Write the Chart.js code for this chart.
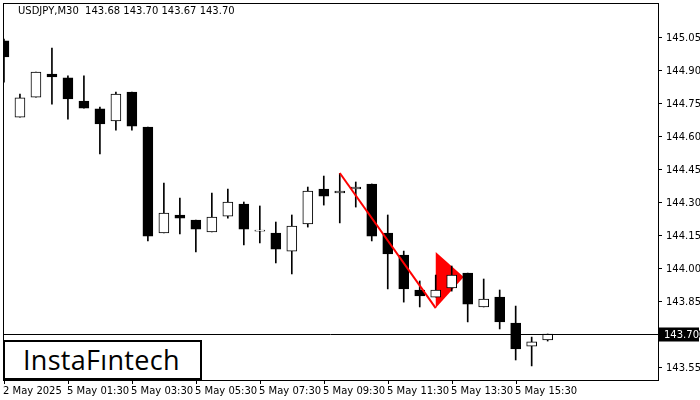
<!DOCTYPE html>
<html><head><meta charset="utf-8">
<script src="https://cdn.jsdelivr.net/npm/chart.js@4"></script>
<style>body{margin:0;background:#fff;font-family:"DejaVu Sans",sans-serif}#w{position:relative;width:700px;height:400px}
#t{position:absolute;left:18px;top:5px;font-size:10px;color:#000}
#logo{position:absolute;left:3px;top:340px;width:195px;height:36px;border:2px solid #000;background:#fff;font-size:27px;line-height:36px;text-indent:18px;font-family:"Open Sans",sans-serif;letter-spacing:0.3px}</style>
</head><body><div id="w"><canvas id="c" width="700" height="400"></canvas><div id="t">USDJPY,M30&nbsp; 143.68 143.70 143.67 143.70</div><div id="logo">InstaFıntech</div></div>
<script>
const opens  =[145.032,144.686,144.777,144.882,144.864,144.759,144.723,144.668,144.800,144.641,144.159,144.241,144.218,144.164,144.236,144.291,144.168,144.159,144.077,144.200,144.359,144.341,144.359,144.382,144.159,144.059,143.900,143.868,143.909,143.977,143.823,143.868,143.750,143.645,143.673];
const closes =[144.959,144.773,144.891,144.868,144.768,144.727,144.655,144.791,144.645,144.145,144.250,144.227,144.177,144.232,144.300,144.177,144.168,144.086,144.191,144.350,144.327,144.350,144.368,144.145,144.064,143.905,143.873,143.900,143.968,143.836,143.859,143.755,143.632,143.664,143.700];
const highs  =[145.040,144.791,144.891,145.000,144.873,144.873,144.732,144.800,144.800,144.641,144.386,144.318,144.218,144.341,144.359,144.300,144.282,144.209,144.241,144.368,144.418,144.430,144.391,144.382,144.241,144.077,143.941,143.968,144.009,143.977,143.950,143.900,143.827,143.686,143.700];
const lows   =[144.845,144.686,144.777,144.745,144.677,144.727,144.518,144.627,144.627,144.123,144.159,144.155,144.073,144.164,144.227,144.105,144.114,144.023,143.973,144.186,144.286,144.205,144.277,144.123,143.905,143.845,143.823,143.868,143.895,143.755,143.823,143.723,143.582,143.555,143.668];
const timeLabels=["2 May 2025","5 May 01:30","5 May 03:30","5 May 05:30","5 May 07:30","5 May 09:30","5 May 11:30","5 May 13:30","5 May 15:30"];
const yTicks=[143.55,143.70,143.85,144.00,144.15,144.30,144.45,144.60,144.75,144.90,145.05];
const poleX=[21,27], poleY=[144.432,143.818];
const flagX=[27,27,28.75], flagY=[144.073,143.818,143.959];
const lastPrice=143.70;

const idx=opens.map((_,i)=>i);
const bodyColor=idx.map(i=>closes[i]>=opens[i]?'#fff':'#000');
const body=idx.map(i=>{let a=opens[i],b=closes[i];if(Math.abs(a-b)<0.004){b=a+0.004;}return {x:i,y:[a,b]};});
const wick=idx.map(i=>({x:i,y:[lows[i],highs[i]]}));

const overlay={id:'ov',
 beforeDatasetsDraw(ch){
  const x=ch.scales.x,y=ch.scales.y,c=ch.ctx,a=ch.chartArea;
  c.save();c.beginPath();c.rect(a.left,a.top,a.right-a.left,a.bottom-a.top);c.clip();
  c.fillStyle='#ff0000';c.beginPath();
  flagX.forEach((v,i)=>{const px=x.getPixelForValue(v),py=y.getPixelForValue(flagY[i]);i?c.lineTo(px,py):c.moveTo(px,py);});
  c.closePath();c.fill();c.restore();},
 afterDatasetsDraw(ch){
 const x=ch.scales.x,y=ch.scales.y,c=ch.ctx,a=ch.chartArea;
 c.save();
 c.strokeStyle='#ff0000';c.lineWidth=2;c.beginPath();
 c.moveTo(x.getPixelForValue(poleX[0]),y.getPixelForValue(poleY[0]));
 c.lineTo(x.getPixelForValue(poleX[1]),y.getPixelForValue(poleY[1]));c.stroke();
 c.font='10px "DejaVu Sans"';c.textAlign='left';c.textBaseline='middle';c.fillStyle='#000';
 yTicks.forEach(v=>{const py=Math.round(y.getPixelForValue(v));c.fillRect(a.right,py,4,1);c.fillText(v.toFixed(2),a.right+8,py+1);});
 const ly=Math.round(y.getPixelForValue(lastPrice))+0.5;
 c.strokeStyle='#000';c.lineWidth=1;c.beginPath();c.moveTo(a.left,ly);c.lineTo(a.right,ly);c.stroke();
 c.fillStyle='#000';c.fillRect(a.right+1,ly-7,40,14);
 c.fillStyle='#fff';c.fillText(lastPrice.toFixed(2),a.right+6,ly+1);
 c.fillStyle='#000';c.textBaseline='top';
 timeLabels.forEach((t,i)=>{const px=Math.round(x.getPixelForValue(i*4));
   c.fillRect(px,a.bottom,1,4);c.fillText(t,px-1,a.bottom+6);});
 c.strokeStyle='#000';c.strokeRect(a.left+0.5,a.top+0.5,a.right-a.left,a.bottom-a.top);
 c.restore();}};

new Chart(document.getElementById('c'),{
 type:'bar',
 data:{datasets:[
  {data:wick,backgroundColor:'#000',barThickness:1,grouped:false,order:2},
  {data:body,backgroundColor:bodyColor,borderColor:'#000',borderWidth:1,borderSkipped:false,barThickness:10,grouped:false,order:1}
 ]},
 options:{responsive:false,animation:false,events:[],
  layout:{padding:{left:3,top:3,right:0,bottom:0}},
  plugins:{legend:{display:false},tooltip:{enabled:false}},
  scales:{
   x:{type:'linear',min:-0.06,max:40.9,offset:false,
    afterFit(s){s.height=20;},
    ticks:{display:false},
    grid:{display:false},border:{display:false}},
   y:{position:'right',min:143.491,max:145.2045,
    afterFit(s){s.width=42;},
    ticks:{display:false},
    grid:{display:false},border:{display:false}}
  }},
 plugins:[overlay]
});
</script></body></html>
